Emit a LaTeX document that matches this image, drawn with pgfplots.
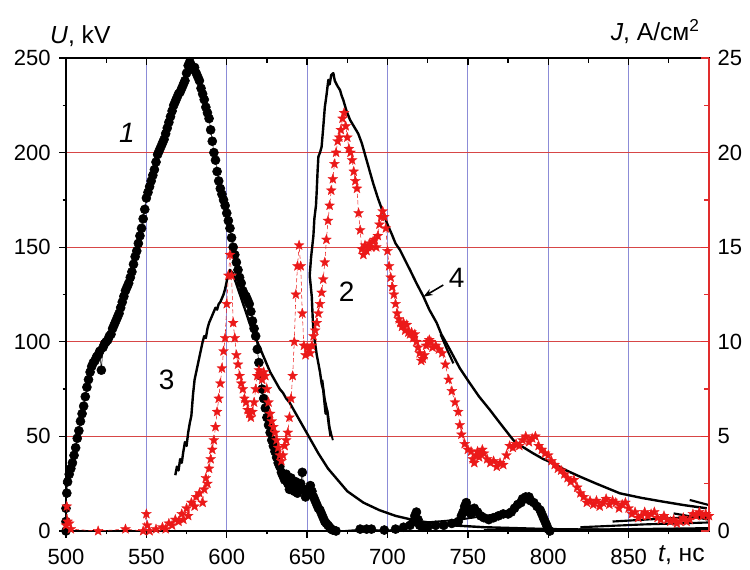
\documentclass[border=0pt]{standalone}
\usepackage{fontspec}
\setmainfont{Liberation Sans}
\usepackage{pgfplots}
\pgfplotsset{compat=1.18}
\usetikzlibrary{arrows.meta}

\definecolor{gridblue}{RGB}{140,140,215}
\definecolor{gridred}{RGB}{215,70,70}
\definecolor{redaxis}{RGB}{225,45,45}
\definecolor{starred}{RGB}{235,25,25}

\pgfdeclareplotmark{fstar}{%
 \pgfpathmoveto{\pgfpointpolar{90}{\pgfplotmarksize}}%
 \pgfpathlineto{\pgfpointpolar{126}{0.42\pgfplotmarksize}}%
 \pgfpathlineto{\pgfpointpolar{162}{\pgfplotmarksize}}%
 \pgfpathlineto{\pgfpointpolar{198}{0.42\pgfplotmarksize}}%
 \pgfpathlineto{\pgfpointpolar{234}{\pgfplotmarksize}}%
 \pgfpathlineto{\pgfpointpolar{270}{0.42\pgfplotmarksize}}%
 \pgfpathlineto{\pgfpointpolar{306}{\pgfplotmarksize}}%
 \pgfpathlineto{\pgfpointpolar{342}{0.42\pgfplotmarksize}}%
 \pgfpathlineto{\pgfpointpolar{18}{\pgfplotmarksize}}%
 \pgfpathlineto{\pgfpointpolar{54}{0.42\pgfplotmarksize}}%
 \pgfpathclose\pgfusepathqfillstroke}

\newcommand\ticksize{\fontsize{16.5}{18}\selectfont}
\newcommand\labsize{\fontsize{18.5}{21}\selectfont}
\newcommand\numsize{\fontsize{21}{24}\selectfont}

\begin{document}
\begin{tikzpicture}
% ---------- main axis: U (kV) ----------
\begin{axis}[
  scale only axis, width=482.25pt, height=354.75pt,
  at={(0,0)}, anchor=south west,
  xmin=500, xmax=900, ymin=0, ymax=250,
  xtick={550,600,...,850}, extra x ticks={500},
  ytick={50,100,...,200}, extra y ticks={0,250},
  extra tick style={grid=none},
  minor xtick={525,575,...,875}, minor ytick={25,75,...,225},
  xmajorgrids, ymajorgrids,
  x grid style={gridblue, line width=0.7pt},
  y grid style={gridred, line width=0.7pt},
  xtick pos=left, ytick pos=left,
  tick align=outside,
  major tick length=5pt, minor tick length=2.5pt,
  tick style={black, line width=1pt},
  axis line style={line width=1.2pt},
  tick label style={font=\ticksize},
  yticklabel style={xshift=-3pt},
  xticklabel style={yshift=-5pt},
  /pgf/number format/assume math mode=true,
  /pgf/number format/1000 sep={},
  clip=false,
]
% curve 4
\addplot[black, line width=1.8pt, line join=round] coordinates {
(664.6,50) (663.5,56) (662.4,64) (661.5,62) (660,74.5) (659,78) (658,84) (657,88.6) (656,93) (655,99) (653.9,106)
(653.5,112) (652.9,123.8) (652.2,130) (651.6,135) (652.5,145) (653.9,156) (654.5,165) (655.5,172) (655.9,178.4)
(656.5,190) (657,197.8) (658,200) (659,203) (660,213) (661,224) (662,230) (663.2,238.4) (664,236) (665,241)
(666.3,242) (667.2,238) (667.9,236.8) (669,235) (670.5,233) (671.5,230) (672.5,227.8) (674.5,222) (676.7,217.3)
(679,214) (681.8,210) (684,205) (687,196) (689,190) (691,184) (694,176) (697.4,168) (700,162) (702.6,157)
(705,152) (707.8,148.5) (711,143) (714,138) (718,131) (722.3,124) (726,117) (730.6,110) (733.5,104) (736.8,99)
(740,94) (745,86) (751.3,78) (757,71) (763.7,64) (770,57) (778.3,48) (784,44.5) (790.7,41) (797,38)
(803.1,35.8) (810,32.5) (819.8,28.7) (830,25) (844.6,19.9) (858,17.5) (871.5,15.5) (885,13.6) (898.6,12)
};
\addplot[black, line width=1.6pt] coordinates {(733,104) (737,96) (741,88.6)};
\addplot[black, line width=1.4pt] coordinates {(666,48) (664,55) (663,62) (661,70) (659.5,80)};
% curve 3
\addplot[black, line width=1.8pt, line join=round] coordinates {
(568,29.5) (569,34) (570,32) (571,38) (572,36) (573,42) (574,47) (575,45) (576,52) (577,57) (578,61)
(579,72) (580,80) (581,84) (582,88) (583,92) (584,96) (585,100) (586,103) (587,102) (588,107) (589,110)
(590,112) (591,114) (592,116) (593,118) (594,117) (595,120) (596,121) (597,123) (598,125) (599,128)
(600,132) (601,136) (602,138) (603,137) (604,136) (605,133) (607,128) (609,123) (611,118) (613,113)
(615,108) (617,104) (619,100) (621,96) (623,92) (625,88) (627,84) (629,81) (631,78) (633,75) (635,73)
(637,70) (639,68) (641,65) (643,62) (645,59) (647,56) (649,53) (651,50) (653,47) (655,44) (657,41)
(660,37) (663,33) (666,30) (670,26) (675,21) (680,18) (685,15) (690,13) (695,11) (700,9.5) (705,8)
(710,7) (715,6) (720,5.2) (730,4) (740,3) (750,2.5) (760,2) (780,1.5) (800,1) (850,0.5) (900,0.3)
};
% tail traces
\addplot[black, line width=1.4pt] coordinates {(716,4) (745,6) (772,9.5)};
\addplot[black, line width=1.6pt] coordinates {(840,5) (870,6.5) (900,7.6)};
\addplot[black, line width=1.6pt] coordinates {(878,9.3) (900,6)};
\addplot[black, line width=1.6pt] coordinates {(888,16.4) (900,13.7)};
\addplot[black, line width=1.6pt] coordinates {(820,2) (860,3.5) (900,4.5)};
\addplot[black, line width=1.6pt] coordinates {(760,0.5) (830,0.8) (900,1.5)};
% curve 1 (dots)
\addplot[black, line width=0.4pt, mark=*, mark size=3.4pt, mark options={fill=black}] coordinates {
(500,0) (500,5) (500,12) (500.5,20) (501,26) (502,30) (503,33) (504,36) (505,40) (506,44) (507,49)
(508,53) (509,58) (510,62) (511,66) (512,71) (513,76) (514,80) (515,84) (516,87) (517,89) (518,90)
(519,92) (520,93) (521,95) (522,85) (523,97) (524,99) (525,100) (526,101) (527,103) (528,104) (529,107)
(530,109) (531,111) (532,113) (533,115) (534,118) (535,121) (536,124) (537,127) (538,129) (539,131)
(540,134) (541,137) (542,141) (543,145) (544,148) (545,152) (546,156) (547,160) (548,165) (549,170)
(550,176) (551,179) (552,182) (553,185) (554,188) (555,191) (556,195) (557,199) (558,201) (559,203)
(560,205) (561,207) (562,210) (563,213) (564,216) (565,219) (566,222) (567,225) (568,227) (569,229)
(570,231) (571,232) (572,234) (573,236) (574,238) (575,242) (576,246) (577,248) (578,246) (579,244)
(580,245) (581,242) (582,240) (583,238) (584,234) (585,231) (586,228) (587,224) (588,221) (589,218)
(590,212) (591,206) (592,200) (593,196) (594,190) (595,185) (596,181) (597,178) (598,175) (599,172)
(600,168) (601,164) (602,160) (603,155) (604,150) (605,146) (606,142) (607,138) (608,134) (609,131)
(610,127) (611,125) (612,124) (613,122) (614,120) (615,116) (616,111) (617,107) (618,103) (619,96)
(620,89) (621,82) (622,75) (623,70) (624,65) (625,60) (626,56) (627,52) (628,48) (629,45) (630,42)
(631,39) (632,36) (633,34) (634,31) (635,29) (636,27) (637,30) (638,25) (639,22) (640,28) (641,24)
(642,21) (643,26) (644,20) (645,23) (646,25) (647,31) (648,22) (649,18) (650,20) (651,22) (652,24)
(653,21) (654,18) (655,16) (656,14) (657,12) (658,11) (659,9) (660,7) (661,5) (662,4) (663,3) (664,2)
(665,1) (666,0.5) (668,0) (683,1) (687,1) (690,1) (698,0.5) (705,1) (710,2) (714,3) (716,5) (717,8)
(718,10) (719,6) (720,3) (722,2) (725,2) (730,3) (735,3) (740,4) (744,5) (746,8) (747,10) (748,13)
(749,15) (750,12) (751,10) (752,9) (754,12) (756,10) (758,8) (760,7) (763,6) (766,7) (769,8) (772,9)
(775,9) (777,10) (779,12) (781,14) (783,15) (784,17) (786,18) (787,17) (788,18) (789,16) (791,15)
(793,13) (795,11) (796,9) (797,7) (798,5) (799,3) (800,1) (801,0)
};
% labels
\node[anchor=base west, font=\labsize, inner sep=0pt] at (axis cs:490,257.8) {\textit{U}, kV};
\node[anchor=base east, font=\labsize, inner sep=0pt] at (axis cs:894.4,259.5) {\textit{J}, А/см\textsuperscript{2}};
\node[anchor=base east, font=\labsize, inner sep=0pt] at (axis cs:897.5,-16.3) {\textit{t}, нс};
\node[font=\numsize] at (axis cs:537.9,210.4) {\textit{1}};
\node[font=\numsize] at (axis cs:674.6,126.5) {2};
\node[font=\numsize] at (axis cs:562.6,79.8) {3};
\node[font=\numsize] at (axis cs:743,133.6) {4};
\draw[-{Stealth[length=7pt,width=5pt]}, line width=1.2pt] (axis cs:734.7,130) -- (axis cs:722.3,123.8);
\end{axis}
% ---------- top ticks (inside) ----------
\begin{axis}[
  scale only axis, width=482.25pt, height=354.75pt,
  at={(0,0)}, anchor=south west,
  xmin=500, xmax=900, ymin=0, ymax=250,
  xtick={500,550,...,850}, minor xtick={525,575,...,875},
  xticklabels={}, ytick=\empty,
  xtick pos=right, tick align=inside,
  major tick length=5pt, minor tick length=4pt,
  tick style={black, line width=1pt},
  axis line style={draw=none},
]
\end{axis}
% ---------- second axis: J ----------
\begin{axis}[
  scale only axis, width=482.25pt, height=354.75pt,
  at={(0,0)}, anchor=south west,
  xmin=500, xmax=900, ymin=0, ymax=25,
  axis x line=none, axis y line*=right,
  axis line style={-},
  y axis line style={-, draw=redaxis, line width=1.2pt},
  ytick={0,5,...,25}, minor ytick={2.5,7.5,...,22.5},
  tick align=inside, major tick length=6pt, minor tick length=3.75pt,
  tick style={redaxis, line width=1pt},
  tick label style={font=\ticksize},
  yticklabel style={xshift=3pt},
  /pgf/number format/assume math mode=true,
  clip=false,
]
\addplot[starred, densely dashed, line width=0.4pt, mark=fstar, mark size=3.9pt,
  mark options={solid, fill=starred, draw=starred, line width=0.2pt}] coordinates {
(500,0.3) (500.5,1.3) (501,0.5) (502,0.4) (503,0.1) (520,0) (537,0.1) (548,0) (550,0.9) (550.5,0.3)
(552,0) (556,0.1) (560,0.2) (562,0.1) (564,0.4) (566,0.3) (568,0.6) (570,0.5) (572,0.9) (573,0.6)
(575,1.2) (576,0.8) (578,1.5) (580,1.3) (581,1.8) (583,2.0) (585,1.5) (586,2.2) (587,2.8) (588,2.5)
(589,3.3) (590,3.8) (591,4.3) (592,4.8) (593,5.5) (594,6.3) (595,7.0) (596,7.8) (597,8.6) (598,9.5)
(599,10.2) (600,12.0) (601,13.5) (602,14.6) (603,13.5) (604,11.0) (605,10.2) (606,9.3) (607,8.8)
(608,8.2) (609,7.8) (610,7.5) (611,7.0) (612,6.8) (613,6.4) (614,6.2) (615,6.0) (616,6.3) (617,6.8)
(618,7.5) (619,8.2) (620,8.5) (621,8.3) (622,8.0) (623,8.4) (624,8.2) (625,7.5) (626,6.8) (627,6.2)
(628,5.8) (629,5.5) (630,5.2) (631,4.8) (632,4.4) (633,4.0) (634,3.7) (635,4.0) (636,4.5) (637,4.8)
(638,5.2) (639,6.0) (640,7.0) (641,8.2) (642,10.0) (643,12.5) (644,14.0) (645,15.1) (646,14.0)
(647,11.5) (648,9.8) (649,9.3) (650,9.7) (651,9.6) (652,9.4) (653,9.8) (654,10.3) (655,10.6) (656,11.0)
(657,11.5) (658,12.0) (659,12.6) (660,13.3) (661,14.2) (662,15.4) (663,16.4) (664,17.2) (665,18.0)
(666,18.6) (667,19.4) (668,20.0) (669,20.6) (670,20.8) (671,21.2) (672,21.8) (673,22.1) (674,21.4)
(675,20.8) (676,20.2) (677,20.0) (678,19.6) (679,19.0) (680,18.5) (681,18.1) (682,16.8) (683,15.9)
(684,14.9) (685,14.6) (686,15.1) (687,14.8) (688,15.0) (689,15.2) (690,15.0) (691,15.3) (692,15.4)
(693,15.0) (694,15.6) (695,16.2) (696,16.6) (697,16.9) (698,16.6) (699,16.0) (700,14.8) (701,14.0)
(702,13.4) (703,12.9) (704,12.5) (705,12.0) (706,11.5) (707,11.2) (708,11.0) (709,10.8) (710,11.0)
(711,10.6) (712,10.9) (713,10.5) (714,10.4) (715,10.5) (716,10.2) (717,10.4) (718,10.0) (719,9.7)
(720,9.4) (721,9.0) (722,9.1) (723,9.3) (724,9.8) (725,10.0) (726,10.1) (727,10.0) (728,9.7) (730,9.8)
(732,9.6) (734,9.4) (736,8.8) (738,8.0) (740,7.4) (742,6.8) (744,6.3) (745,5.6) (746,5.1) (748,4.6)
(750,4.3) (752,4.2) (753,3.8) (754,3.6) (755,4.0) (756,4.2) (757,3.9) (758,4.1) (759,4.3) (760,4.1)
(762,3.8) (764,3.6) (766,3.7) (768,3.4) (770,3.6) (772,3.5) (774,4.0) (776,4.5) (778,4.4) (780,4.6)
(782,4.5) (784,4.8) (786,5.0) (788,4.7) (790,4.9) (792,5.0) (794,4.5) (796,4.3) (798,4.1) (800,4.0)
(802,3.7) (804,3.5) (806,3.3) (808,3.2) (810,3.0) (812,2.8) (814,2.6) (816,2.7) (818,2.3) (820,2.0)
(822,1.8) (824,1.5) (826,1.6) (828,1.4) (830,1.6) (832,1.3) (834,1.5) (836,1.7) (838,1.4) (840,1.6)
(842,1.5) (844,1.2) (846,1.4) (848,1.5) (850,1.2) (852,0.9) (854,1.0) (856,0.7) (858,0.8) (860,1.0)
(862,0.8) (864,0.9) (866,1.0) (868,0.7) (870,0.6) (872,0.8) (874,0.6) (876,0.5) (878,0.6) (880,0.4)
(882,0.5) (884,0.7) (886,0.5) (888,0.6) (890,0.9) (892,0.8) (894,1.0) (896,0.8) (898,0.9) (900,0.8)
};
\end{axis}
\path (-49.5pt,-26.5pt) rectangle (513pt,398.25pt);
\end{tikzpicture}
\end{document}
